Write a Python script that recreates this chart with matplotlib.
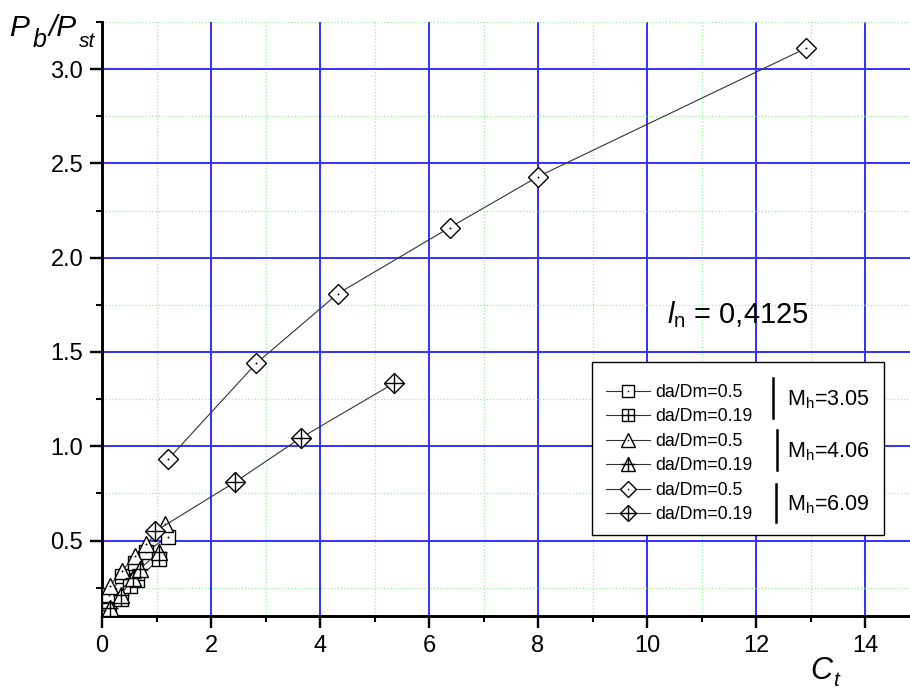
import matplotlib
matplotlib.use('Agg')
import matplotlib.pyplot as plt
from matplotlib.patches import Rectangle
from matplotlib.lines import Line2D
from matplotlib.legend_handler import HandlerTuple
from matplotlib.ticker import MultipleLocator

plt.rcParams['font.family'] = ['Liberation Sans', 'DejaVu Sans']
plt.rcParams['mathtext.fontset'] = 'custom'
plt.rcParams['mathtext.rm'] = 'Liberation Sans'
plt.rcParams['mathtext.it'] = 'Liberation Sans:italic'

W, H = 910, 689

# Mh = 3.05 (squares)
sq05_x = [0.12, 0.37, 0.60, 0.80, 1.22]
sq05_y = [0.21, 0.31, 0.38, 0.44, 0.52]
sq019_x = [0.12, 0.34, 0.52, 0.64, 1.04]
sq019_y = [0.13, 0.19, 0.26, 0.29, 0.40]
# Mh = 4.06 (triangles)
tr05_x = [0.14, 0.37, 0.61, 0.81, 1.16]
tr05_y = [0.26, 0.34, 0.42, 0.48, 0.59]
tr019_x = [0.14, 0.34, 0.57, 0.70, 1.04]
tr019_y = [0.14, 0.21, 0.30, 0.35, 0.44]
# Mh = 6.09 (diamonds)
di05_x = [1.21, 2.83, 4.33, 6.38, 8.0, 12.91]
di05_y = [0.93, 1.44, 1.81, 2.16, 2.43, 3.11]
di019_x = [0.98, 2.44, 3.65, 5.36]
di019_y = [0.55, 0.81, 1.045, 1.335]

labels = ['da/Dm=0.5', 'da/Dm=0.19'] * 3
mh_labels = ['3.05', '4.06', '6.09']


def px(x, y):
    return x / W, 1 - y / H


def series(ax, x, y, marker, ms, crossed, cross_ms):
    base, = ax.plot(x, y, '-', color='#333333', lw=0.8, marker=marker, ms=ms,
                    mfc='white', mec='black', mew=1.0, zorder=3)
    if crossed:
        over, = ax.plot(x, y, ls='none', marker='+', ms=cross_ms, mec='black', mew=1.0, zorder=3)
    else:
        over, = ax.plot(x, y, ls='none', marker='o', ms=1.0, mfc='black', mec='black', mew=0.3, zorder=3)
    return (base, over)


fig = plt.figure(figsize=(W / 100, H / 100), dpi=100)
x0, y1 = px(102, 22)
x1, y0 = px(910, 616)
ax = fig.add_axes([x0, y0, x1 - x0, y1 - y0])

h = []
h.append(series(ax, sq05_x, sq05_y, 's', 9.5, False, 9.5))
h.append(series(ax, sq019_x, sq019_y, 's', 9.5, True, 9.5))
h.append(series(ax, tr05_x, tr05_y, '^', 12, False, 12))
h.append(series(ax, tr019_x, tr019_y, '^', 12, True, 12))
h.append(series(ax, di05_x, di05_y, 'D', 10, False, 14))
h.append(series(ax, di019_x, di019_y, 'D', 10, True, 14))

ax.set_xlim(0, 808 / 54.5)
ax.set_ylim(0.1, 3.25)
ax.xaxis.set_major_locator(MultipleLocator(2))
ax.xaxis.set_minor_locator(MultipleLocator(1))
ax.yaxis.set_major_locator(MultipleLocator(0.5))
ax.yaxis.set_minor_locator(MultipleLocator(0.25))
ax.set_yticks([0.5, 1.0, 1.5, 2.0, 2.5, 3.0])
ax.set_yticklabels(['0.5', '1.0', '1.5', '2.0', '2.5', '3.0'])
ax.grid(which='major', color='#3030ff', lw=1.4, ls='-', zorder=1)
ax.grid(which='minor', color='#99ee99', lw=0.9, ls=':', zorder=1)
ax.set_axisbelow(True)

for s in ['top', 'right']:
    ax.spines[s].set_visible(False)
for s in ['left', 'bottom']:
    ax.spines[s].set_linewidth(2.1)
ax.tick_params(which='major', direction='out', length=8.5, width=1.7, labelsize=17, pad=5)
ax.tick_params(which='minor', direction='out', length=4.5, width=1.5)

# axis titles with Origin-style large subscripts
fig.text(*px(9, 36), 'P', fontsize=21.5, style='italic', va='baseline')
fig.text(*px(33, 47), 'b', fontsize=18, style='italic', va='baseline')
fig.text(*px(49, 36), '/P', fontsize=21.5, style='italic', va='baseline')
fig.text(*px(79, 47), 'st', fontsize=15, style='italic', va='baseline')
fig.text(*px(810, 679), 'C', fontsize=22, style='italic', va='baseline')
fig.text(*px(833, 686), 't', fontsize=15, style='italic', va='baseline')

ax.text(*px(667, 323), r'$l_{\mathrm{n}}$ = 0,4125', transform=fig.transFigure,
        fontsize=21, va='baseline', ha='left')

# legend box with group brackets
bx0, by1 = px(592, 362)
bx1, by0 = px(884, 535)
ax.add_patch(Rectangle((bx0, by0), bx1 - bx0, by1 - by0, transform=fig.transFigure,
                       fc='white', ec='black', lw=1.0, zorder=4, clip_on=False))
leg = ax.legend(h, labels, loc='upper left', bbox_to_anchor=px(597, 375),
                bbox_transform=fig.transFigure, frameon=False, fontsize=12.8, markerscale=0.85,
                handlelength=2.5, handletextpad=0.3, labelspacing=0.42, borderpad=0,
                handler_map={tuple: HandlerTuple(ndivide=1)})
leg.set_zorder(5)

for i, (xb, ya, yb) in enumerate([(773, 378, 418), (777, 430, 470), (776, 484, 522)]):
    ax.add_line(Line2D([xb / W, xb / W], [1 - ya / H, 1 - yb / H], transform=fig.transFigure,
                       color='black', lw=1.8, zorder=6, clip_on=False))
    ym = (ya + yb) / 2
    ax.text(*px(787, ym + 7), r'M$_{\mathrm{h}}$=' + mh_labels[i], transform=fig.transFigure,
            fontsize=15.5, va='baseline', ha='left', zorder=6)

fig.savefig('out.png', dpi=100)
